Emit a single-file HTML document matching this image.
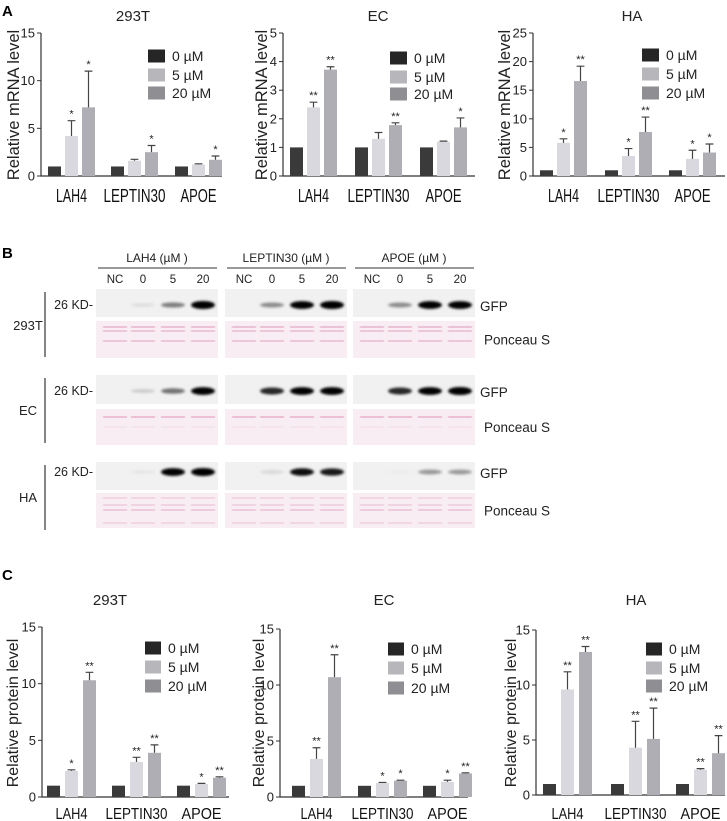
<!DOCTYPE html>
<html><head><meta charset="utf-8"><style>
html,body{margin:0;padding:0;background:#fff}
svg{display:block}
.a{font-family:"Liberation Sans",sans-serif}
.n{font-family:"Liberation Sans Narrow","Liberation Sans",sans-serif}
</style></head><body>
<svg id="fig" width="727" height="821" viewBox="0 0 727 821" xmlns="http://www.w3.org/2000/svg">
<defs><filter id="bl" x="-50%" y="-200%" width="200%" height="500%"><feGaussianBlur stdDeviation="1.4"/></filter>
<filter id="bl2"><feGaussianBlur stdDeviation="0.5"/></filter></defs>
<text x="2" y="16" class="a" font-size="15" font-weight="bold">A</text>
<text x="2" y="258" class="a" font-size="15" font-weight="bold">B</text>
<text x="2" y="580" class="a" font-size="15" font-weight="bold">C</text>
<g id="charts"></g>
<g id="blots"></g>
</svg>
<script>
const categories = ["LAH4","LEPTIN30","APOE"];
const seriesNames = ["0 µM","5 µM","20 µM"];
// Panel A - mRNA
const A1_v0=[1,1,1], A1_v5=[4.2,1.6,1.2], A1_e5=[1.6,0.15,0.08], A1_v20=[7.2,2.5,1.7], A1_e20=[3.8,0.7,0.4];
const A1_s5=["*","",""], A1_s20=["*","*","*"];
const A2_v0=[1,1,1], A2_v5=[2.4,1.3,1.2], A2_e5=[0.18,0.22,0.02], A2_v20=[3.72,1.78,1.7], A2_e20=[0.1,0.08,0.33];
const A2_s5=["**","",""], A2_s20=["**","**","*"];
const A3_v0=[1,1,1], A3_v5=[5.8,3.5,3], A3_e5=[0.7,1.3,1.5], A3_v20=[16.6,7.7,4.1], A3_e20=[2.6,2.6,1.5];
const A3_s5=["*","*","*"], A3_s20=["**","**","*"];
const A1_ticks=[0,5,10,15], A2_ticks=[0,1,2,3,4,5], A3_ticks=[0,5,10,15,20,25];
// Panel C - protein
const C1_v0=[1,1,1], C1_v5=[2.3,3.1,1.15], C1_e5=[0.1,0.4,0.05], C1_v20=[10.3,3.9,1.7], C1_e20=[0.7,0.7,0.08];
const C1_s5=["*","**","*"], C1_s20=["**","**","**"];
const C2_v0=[1,1,1], C2_v5=[3.4,1.25,1.35], C2_e5=[1,0.05,0.15], C2_v20=[10.7,1.45,2.1], C2_e20=[2,0.05,0.06];
const C2_s5=["**","*","*"], C2_s20=["**","*","**"];
const C3_v0=[1,1,1], C3_v5=[9.6,4.3,2.3], C3_e5=[1.6,2.4,0.1], C3_v20=[13,5.1,3.8], C3_e20=[0.5,2.8,1.6];
const C3_s5=["**","**","**"], C3_s20=["**","**","**"];
const C_ticks=[0,5,10,15];
// Panel B - band intensities (NC,0,5,20)
const bandCells=["293T","EC","HA"];
const bandPeptides=["LAH4","LEPTIN30","APOE"];
const band293T=[[0,0.08,0.45,1],[0,0.4,0.95,1],[0,0.4,0.95,0.95]];
const bandEC=[[0,0.15,0.5,0.95],[0,0.8,0.95,0.95],[0,0.8,0.95,1]];
const bandHA=[[0,0.05,0.95,1],[0,0.1,0.9,0.85],[0,0.02,0.35,0.35]];
const laneLabels=["NC","0","5","20"];

const NS="http://www.w3.org/2000/svg";
function mk(p,tag,at,txt){const e=document.createElementNS(NS,tag);for(const k in at)e.setAttribute(k,at[k]);if(txt!==undefined)e.textContent=txt;p.appendChild(e);return e;}
const BAR=["#3a3a3a","#d8d8de","#aeaeb4"], LEG=["#262626","#b6b6bb","#8e8e93"];

function chart(c,vals,errs,stars,ticks){
  const g=mk(document.getElementById("charts"),"g",{});
  
  
  const max=ticks[ticks.length-1];
  const Y=v=>c.y0-(v/max)*(c.y0-c.yTop);
  const cls=c.cls, ax=c.ax;
  const axl=mk(g,"path",{d:`M${ax},${c.yTop}V${c.y0}H${c.xEnd}`,stroke:"#333",fill:"none","stroke-width":1.2});
  
  
  ticks.forEach(t=>{
    mk(g,"line",{x1:ax-4,x2:ax,y1:Y(t),y2:Y(t),stroke:"#333"});
    const tl=mk(g,"text",{x:ax-6,y:Y(t)+4.5,"text-anchor":"end","font-size":c.tfs,class:cls,fill:"#222"},t);
    
    
  });
  const yl=mk(g,"text",{transform:`translate(${c.ylx},${c.yly}) rotate(-90)`,"text-anchor":"middle","font-size":c.yfs,class:cls,fill:"#222"},c.ylabel);
  
  
  const tt=mk(g,"text",{x:c.tx,y:c.ty,"text-anchor":"middle","font-size":c.tfs2,class:cls,fill:"#222"},c.title);
  
  
  categories.forEach((cat,i)=>{
    const s=c.starts[i];
    for(let k=0;k<3;k++){
      const x=s+c.offs[k], v=vals[k][i];
      const r=mk(g,"rect",{x:x,y:Y(v),width:c.bw,height:c.y0-Y(v),fill:BAR[k]});
      
      
      if(k>0){
        const e=errs[k-1][i], top=Y(v+e), cx=x+c.bw/2;
        mk(g,"path",{d:`M${cx},${Y(v)}V${top}M${cx-c.bw*0.3},${top}H${cx+c.bw*0.3}`,stroke:"#444","stroke-width":1.2,fill:"none"});
        const st=stars[k-1][i];
        if(st){const sx=mk(g,"text",{x:cx,y:top-3,"text-anchor":"middle","font-size":11,class:"a",fill:"#222"},st);
          
          }
      }
    }
    const cx=s+(c.offs[2]+c.bw)/2;
    const at={x:cx,y:c.ly,"text-anchor":"middle","font-size":c.cfs,class:cls,fill:"#111"};
    if(c.cw){at.textLength=c.cw[i];at.lengthAdjust="spacingAndGlyphs";}
    const cl=mk(g,"text",at,cat);
    
    
  });
  seriesNames.forEach((n,k)=>{
    const y=c.legY[k];
    const lr=mk(g,"rect",{x:c.legX,y:y-6.5,width:c.legW,height:13,fill:LEG[k]});
    
    
    const lt=mk(g,"text",{x:c.legX+c.legW+7,y:y+5,"font-size":c.lfs,class:cls,fill:"#222"},n);
    
    
  });
}
const baseA={cls:"a",tfs:13,yfs:16.5,tfs2:15,cfs:18,cw:[31,62,36],ly:202,bw:13,offs:[0,17,34],lfs:14,legW:17,y0:176,yTop:33,ty:21,ylabel:"Relative mRNA level"};
chart(Object.assign({},baseA,{name:"chart-a-293t",ax:41,xEnd:222,starts:[48,111,175],tx:133,title:"293T",ylx:19,yly:105,legX:148,legY:[56,75,93]}),
  [A1_v0,A1_v5,A1_v20],[A1_e5,A1_e20],[A1_s5,A1_s20],A1_ticks);
chart(Object.assign({},baseA,{name:"chart-a-ec",ax:283,xEnd:475,starts:[290,355,420],tx:378,title:"EC",ylx:267,yly:105,legX:390,legY:[58,77,94]}),
  [A2_v0,A2_v5,A2_v20],[A2_e5,A2_e20],[A2_s5,A2_s20],A2_ticks);
chart(Object.assign({},baseA,{name:"chart-a-ha",ax:533,xEnd:725,starts:[540,605,669],tx:632,title:"HA",ylx:510,yly:105,legX:642,legY:[55,74,93]}),
  [A3_v0,A3_v5,A3_v20],[A3_e5,A3_e20],[A3_s5,A3_s20],A3_ticks);
const baseC={cls:"n",tfs:13,yfs:16,tfs2:15,cfs:16,cw:[32,62,40],ly:819,bw:13,offs:[0,18,36],lfs:14,legW:16,ty:605,ylabel:"Relative protein level"};
chart(Object.assign({},baseC,{name:"chart-c-293t",ax:42,xEnd:229,yTop:627,y0:797,starts:[47,112,177],tx:110,title:"293T",ylx:18,yly:713,legX:145,legY:[648,667,686]}),
  [C1_v0,C1_v5,C1_v20],[C1_e5,C1_e20],[C1_s5,C1_s20],C_ticks);
chart(Object.assign({},baseC,{name:"chart-c-ec",ax:280,xEnd:468,yTop:629,y0:797,starts:[292,358,423],tx:384,title:"EC",ylx:264,yly:713,legX:388,legY:[649,668,688]}),
  [C2_v0,C2_v5,C2_v20],[C2_e5,C2_e20],[C2_s5,C2_s20],C_ticks);
chart(Object.assign({},baseC,{name:"chart-c-ha",ax:536,xEnd:725,yTop:630,y0:795,starts:[543,611,676],tx:636,title:"HA",ylx:516,yly:713,legX:646,legY:[649,668,686]}),
  [C3_v0,C3_v5,C3_v20],[C3_e5,C3_e20],[C3_s5,C3_s20],C_ticks);

// Panel B
(function(){
  const g=document.getElementById("blots");
  const px=[96,225,353], pw=122, laneOff=[19,47,77,107];
  const heads=["LAH4 (µM )","LEPTIN30 (µM )","APOE (µM )"];
  px.forEach((x,p)=>{
    const h=mk(g,"text",{x:x+pw/2,y:262,"text-anchor":"middle","font-size":12,class:"n",fill:"#222"},heads[p]);
    
    
    mk(g,"line",{x1:x+2,x2:x+pw-1,y1:268,y2:268,stroke:"#333","stroke-width":1});
    laneLabels.forEach((l,j)=>{
      const t=mk(g,"text",{x:x+laneOff[j],y:283,"text-anchor":"middle","font-size":11.5,class:"n",fill:"#222"},l);
      
      
    });
  });
  const rows=[
    {cell:"293T",data:band293T,gy:289,gh:28,py:321,ph:37,band:305,lab:325,line:[292,357],pon:[327,331,341],pop:[0.55,0.5,0.5]},
    {cell:"EC",data:bandEC,gy:375,gh:29,py:409,ph:36,band:391,lab:410,line:[378,443],pon:[417,427],pop:[0.6,0.12]},
    {cell:"HA",data:bandHA,gy:462,gh:28,py:493,ph:35,band:472,lab:497,line:[465,530],pon:[498,505,510,523],pop:[0.3,0.35,0.45,0.3]}
  ];
  rows.forEach(r=>{
    mk(g,"line",{x1:45,x2:45,y1:r.line[0],y2:r.line[1],stroke:"#333","stroke-width":1.2});
    const cl=mk(g,"text",{x:28,y:r.lab+5,"text-anchor":"middle","font-size":13,class:"n",fill:"#222"},r.cell);
    
    
    const kd=mk(g,"text",{x:93,y:r.band+4,"text-anchor":"end","font-size":12.5,class:"n",fill:"#222"},"26 KD-");
    
    
    px.forEach((x,p)=>{
      const gb=mk(g,"rect",{x:x,y:r.gy,width:pw,height:r.gh,fill:"#f1f1f2"});
      
      
      r.data[p].forEach((v,j)=>{
        if(v<=0)return;
        const b=mk(g,"ellipse",{cx:x+laneOff[j],cy:r.band,rx:12,ry:1.5+2.5*v,fill:"#000","fill-opacity":Math.min(1,v*1.05),filter:"url(#bl)"});
        
        
      });
      const pb=mk(g,"rect",{x:x,y:r.py,width:pw,height:r.ph,fill:"#f8edf2"});
      
      
      r.pon.forEach((yy,q)=>{
        laneOff.forEach(o=>{
          mk(g,"rect",{x:x+o-12,y:yy-0.8,width:24,height:1.6,fill:"#d77aa6","fill-opacity":r.pop[q],filter:"url(#bl2)"});
        });
      });
    });
    const gl=mk(g,"text",{x:480,y:r.band+6,"font-size":13.5,class:"n",fill:"#222"},"GFP");
    
    
    const pl=mk(g,"text",{x:484,y:r.py+r.ph/2+5,"font-size":13.5,class:"n",fill:"#222"},"Ponceau S");
    
    
  });
})();
</script>
</body></html>
